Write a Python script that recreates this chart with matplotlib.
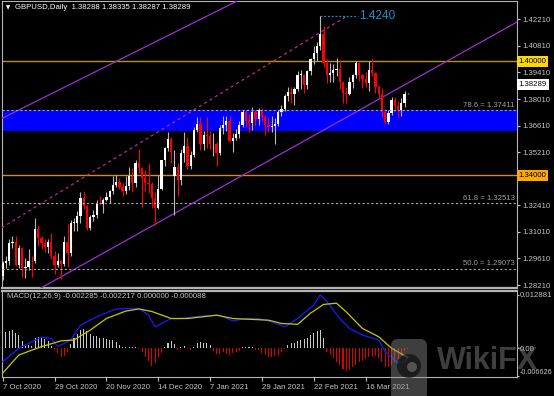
import matplotlib
matplotlib.use("Agg")
import matplotlib.pyplot as plt
import matplotlib.transforms as mtransforms
from matplotlib.patches import FancyBboxPatch, Circle
import numpy as np
import pandas as pd

plt.rcParams['font.family'] = ['Liberation Sans', 'DejaVu Sans']

# ---------------- data ----------------
dates = [d for d in pd.bdate_range('2020-10-07', '2021-04-02')
         if d.strftime('%m-%d') not in ('12-25', '01-01')]

opens = [
    1.2870, 1.2935, 1.2945, 1.3045, 1.3050, 1.2925, 1.3015, 1.2910, 1.2915, 1.2950,
    1.2945, 1.3115, 1.3070, 1.3045, 1.3020, 1.3050, 1.2975, 1.2925, 1.2945, 1.2930,
    1.3050, 1.2990, 1.3150, 1.3150, 1.3185, 1.3280, 1.3235, 1.3120, 1.3180, 1.3190,
    1.3255, 1.3250, 1.3270, 1.3285, 1.3315, 1.3350, 1.3365, 1.3340, 1.3315, 1.3345,
    1.3395, 1.3360, 1.3465, 1.3440, 1.3385, 1.3360, 1.3355, 1.3280, 1.3225, 1.3325,
    1.3480, 1.3545, 1.3590, 1.3395, 1.3445, 1.3375, 1.3515, 1.3555, 1.3450, 1.3505,
    1.3640, 1.3670, 1.3565, 1.3610, 1.3605, 1.3565, 1.3565, 1.3515, 1.3650, 1.3665,
    1.3685, 1.3580, 1.3595, 1.3615, 1.3665, 1.3730, 1.3685, 1.3675, 1.3730, 1.3695,
    1.3745, 1.3705, 1.3665, 1.3655, 1.3660, 1.3670, 1.3735, 1.3750, 1.3815, 1.3840,
    1.3825, 1.3855, 1.3930, 1.3930, 1.3875, 1.3950, 1.4010, 1.4045, 1.4080, 1.4145,
    1.3990, 1.3925, 1.3940, 1.3955, 1.3960, 1.3890, 1.3835, 1.3830, 1.3890, 1.3925,
    1.3990, 1.3925, 1.3905, 1.3885, 1.3955, 1.3940, 1.3865, 1.3830, 1.3735, 1.3680,
    1.3725, 1.3795, 1.3765, 1.3745, 1.3780, 1.38288]
highs = [
    1.2945, 1.2975, 1.3065, 1.3080, 1.3080, 1.3030, 1.3020, 1.2965, 1.3010, 1.2975,
    1.3175, 1.3135, 1.3080, 1.3065, 1.3065, 1.3095, 1.3000, 1.2990, 1.2955, 1.3080,
    1.3140, 1.3165, 1.3175, 1.3210, 1.3310, 1.3315, 1.3245, 1.3190, 1.3215, 1.3270,
    1.3290, 1.3280, 1.3310, 1.3320, 1.3395, 1.3400, 1.3385, 1.3360, 1.3395, 1.3445,
    1.3440, 1.3480, 1.3540, 1.3445, 1.3425, 1.3465, 1.3365, 1.3310, 1.3400, 1.3480,
    1.3550, 1.3625, 1.3600, 1.3535, 1.3465, 1.3540, 1.3625, 1.3600, 1.3525, 1.3655,
    1.3705, 1.3705, 1.3635, 1.3705, 1.3635, 1.3620, 1.3575, 1.3665, 1.3710, 1.3710,
    1.3710, 1.3620, 1.3645, 1.3685, 1.3745, 1.3745, 1.3720, 1.3760, 1.3745, 1.3755,
    1.3755, 1.3715, 1.3705, 1.3710, 1.3700, 1.3745, 1.3770, 1.3830, 1.3865, 1.3865,
    1.3865, 1.3950, 1.3955, 1.3935, 1.3955, 1.4015, 1.4080, 1.4100, 1.4240, 1.4185,
    1.4010, 1.3990, 1.3985, 1.4015, 1.4005, 1.3895, 1.3865, 1.3915, 1.3935, 1.4000,
    1.3995, 1.3935, 1.3945, 1.4000, 1.4015, 1.3945, 1.3875, 1.3860, 1.3750, 1.3745,
    1.3810, 1.3810, 1.3790, 1.3805, 1.3845, 1.38335]
lows = [
    1.2850, 1.2910, 1.2925, 1.3015, 1.2920, 1.2910, 1.2865, 1.2860, 1.2900, 1.2865,
    1.2935, 1.3025, 1.3010, 1.2995, 1.2990, 1.2960, 1.2880, 1.2915, 1.2855, 1.2920,
    1.2915, 1.2975, 1.3105, 1.3105, 1.3150, 1.3220, 1.3110, 1.3110, 1.3160, 1.3175,
    1.3240, 1.3200, 1.3265, 1.3255, 1.3300, 1.3335, 1.3325, 1.3290, 1.3300, 1.3320,
    1.3310, 1.3340, 1.3410, 1.3225, 1.3315, 1.3305, 1.3225, 1.3135, 1.3220, 1.3320,
    1.3450, 1.3525, 1.3465, 1.3188, 1.3290, 1.3350, 1.3470, 1.3430, 1.3430, 1.3495,
    1.3625, 1.3530, 1.3530, 1.3545, 1.3540, 1.3500, 1.3450, 1.3505, 1.3615, 1.3635,
    1.3575, 1.3520, 1.3585, 1.3595, 1.3655, 1.3655, 1.3625, 1.3640, 1.3660, 1.3665,
    1.3680, 1.3610, 1.3625, 1.3625, 1.3565, 1.3660, 1.3710, 1.3740, 1.3790, 1.3780,
    1.3770, 1.3845, 1.3855, 1.3835, 1.3855, 1.3925, 1.3985, 1.4000, 1.4060, 1.3970,
    1.3885, 1.3890, 1.3890, 1.3920, 1.3855, 1.3780, 1.3780, 1.3820, 1.3860, 1.3910,
    1.3895, 1.3860, 1.3865, 1.3845, 1.3920, 1.3835, 1.3805, 1.3700, 1.3670, 1.3670,
    1.3715, 1.3740, 1.3705, 1.3710, 1.3760, 1.38287]
closes = [
    1.2935, 1.2945, 1.3045, 1.3050, 1.2925, 1.3015, 1.2910, 1.2915, 1.2950, 1.2945,
    1.3115, 1.3070, 1.3045, 1.3020, 1.3050, 1.2975, 1.2925, 1.2945, 1.2930, 1.3050,
    1.2990, 1.3150, 1.3150, 1.3185, 1.3280, 1.3235, 1.3120, 1.3180, 1.3190, 1.3255,
    1.3250, 1.3270, 1.3285, 1.3315, 1.3350, 1.3365, 1.3340, 1.3315, 1.3345, 1.3395,
    1.3360, 1.3465, 1.3440, 1.3385, 1.3360, 1.3355, 1.3280, 1.3225, 1.3325, 1.3480,
    1.3545, 1.3590, 1.3520, 1.3445, 1.3375, 1.3515, 1.3555, 1.3450, 1.3505, 1.3640,
    1.3670, 1.3565, 1.3610, 1.3605, 1.3565, 1.3565, 1.3515, 1.3650, 1.3665, 1.3685,
    1.3580, 1.3595, 1.3615, 1.3665, 1.3730, 1.3685, 1.3675, 1.3730, 1.3695, 1.3745,
    1.3705, 1.3665, 1.3655, 1.3660, 1.3670, 1.3735, 1.3750, 1.3815, 1.3840, 1.3825,
    1.3855, 1.3930, 1.3930, 1.3875, 1.3950, 1.4010, 1.4045, 1.4080, 1.4145, 1.3990,
    1.3925, 1.3940, 1.3955, 1.3960, 1.3890, 1.3835, 1.3830, 1.3890, 1.3925, 1.3990,
    1.3925, 1.3905, 1.3885, 1.3955, 1.3940, 1.3865, 1.3830, 1.3735, 1.3680, 1.3725,
    1.3795, 1.3765, 1.3745, 1.3780, 1.3829, 1.38289]

macd_bars = [0, 5, 8, 12, 15, 17, 21, 24, 30, 35, 42, 45, 47, 50, 52, 55, 59, 63,
             67, 71, 75, 79, 83, 87, 91, 96, 98, 100, 104, 107, 111, 116, 118, 122,
             124, 125]
macd_main = [-0.0032, 0.0000, 0.0012, 0.0027, 0.0024, 0.0004, 0.0020, 0.0056,
             0.0080, 0.0095, 0.0097, 0.0080, 0.0052, 0.0064, 0.0072, 0.0072,
             0.0076, 0.0079, 0.0080, 0.0066, 0.0072, 0.0072, 0.0064, 0.0052,
             0.0072, 0.0105, 0.0129, 0.0113, 0.0072, 0.0048, 0.0032, 0.0020,
             -0.0008, -0.0036, -0.0032, -0.002285]
signal_bars = [0, 5, 12, 18, 22, 27, 32, 38, 42, 46, 52, 57, 66, 71, 82, 86, 91,
               95, 99, 103, 106, 111, 116, 120, 125]
signal_vals = [-0.0060, -0.0016, 0.0004, 0.0018, 0.0020, 0.0044, 0.0072, 0.0090,
               0.0095, 0.0089, 0.0072, 0.0072, 0.0080, 0.0072, 0.0068, 0.0060,
               0.0058, 0.0085, 0.0106, 0.0109, 0.0088, 0.0048, 0.0028, 0.0000,
               -0.002217]
hist_vals = [
    3.6, 3.9, 4.1, 4.4, 3.6, 3.1, 1.7, 0.6, 0.8, 0.5,
    2.4, 2.7, 2.4, 2.2, 1.7, 0.5, -0.5, -1.2, -2.0, -1.8,
    -0.9, 1.0, 2.5, 3.4, 4.4, 4.6, 4.1, 3.4, 2.9, 2.9,
    2.5, 2.4, 2.2, 2.0, 1.9, 1.5, 0.7, 0.4, 0.3, 0.3,
    0.3, 0.2, -0.2, -1.0, -2.0, -3.1, -4.2, -3.6, -2.4, -1.2,
    0.2, 1.3, 1.8, 1.1, -0.3, 0.3, 0.5, -0.2, -0.3, 0.4,
    1.4, 1.6, 1.4, 1.2, 0.7, -0.6, -1.3, -1.3, -1.0, -1.3,
    -1.5, -1.1, -0.8, -0.6, 0.2, 0.3, 0.3, 0.2, -0.3, -0.4,
    -1.2, -1.6, -2.0, -2.0, -1.8, -1.6, -0.9, -0.2, 0.8, 1.2,
    1.4, 1.8, 2.0, 2.3, 2.6, 3.2, 3.6, 4.2, 4.4, 2.6,
    -0.8, -1.6, -2.4, -3.2, -4.0, -5.0, -5.6, -5.2, -4.6, -4.0,
    -3.4, -3.0, -2.6, -2.2, -2.0, -1.8, -2.4, -3.4, -4.4, -4.6,
    -4.0, -3.2, -2.6, -1.6, -0.6, -0.088]
hist_vals = [v / 1000.0 for v in hist_vals]

price_ticks = [1.42210, 1.40810, 1.39410, 1.38010, 1.36610, 1.35210,
               1.32410, 1.31010, 1.29610, 1.28210]
macd_ticks = [0.012881, 0.0, -0.006626]
macd_tick_labels = ['0.012881', '0.00', '-0.006626']
level_prices = [1.40000, 1.34000]
level_colors = ['#b8940c', '#d08c14']
level_box_colors = ['#ffd800', '#ffa800']
fib_levels = [78.6, 61.8, 50.0]
fib_prices = [1.37411, 1.32513, 1.29073]
zone_low, zone_high = 1.36325, 1.37411
peak_price = 1.4240
last_price = 1.38289
date_step = 16

# trend-line anchors (bar index, price)
chan_low = [(12.4, 1.2811), (158.7, 1.4207)]
chan_up = [(0.0, 1.3701), (72.3, 1.4317)]
mid_dash = [(-0.3, 1.3123), (106.2, 1.4238)]
peak_span = [97.9, 109.6]

# ---------------- layout ----------------
W, H = 554, 396
fig = plt.figure(figsize=(W / 100, H / 100), dpi=100, facecolor='black')


def rect(x0, y0, x1, y1):
    return [x0 / W, 1 - y1 / H, (x1 - x0) / W, (y1 - y0) / H]


def price_at(y):
    return 1.4221 - (y - 19.3) / 1898.0


def macd_at(y):
    return (348.3 - y) / 4138.0


ax = fig.add_axes(rect(2, 1, 517, 288), facecolor='black')
ax2 = fig.add_axes(rect(2, 291, 517, 377), facecolor='black')
xmin, xmax = (2 - 2.7) / 3.241, (517 - 2.7) / 3.241
for a in (ax, ax2):
    a.set_xlim(xmin, xmax)
    for s in a.spines.values():
        s.set_color('#b4b4b4')
        s.set_linewidth(0.8)
ax.spines['bottom'].set_linewidth(1.6)
ax2.spines['top'].set_linewidth(1.6)
ax.set_ylim(price_at(288), price_at(1))
ax2.set_ylim(macd_at(377), macd_at(291))

FS = 5.6
GRAY = '#c4c4c4'

# zone and levels
ax.axhspan(zone_low, zone_high, color='#0000ff', zorder=1, lw=0)
for p, col in zip(level_prices, level_colors):
    ax.axhline(p, color=col, lw=1.0, zorder=2)

bt = mtransforms.blended_transform_factory(ax.transAxes, ax.transData)
for lvl, p in zip(fib_levels, fib_prices):
    ax.axhline(p, color='#a8a8a8', lw=0.8, ls=(0, (2, 2)), zorder=6)
    ax.text(0.996, p + 0.0009, f"{lvl:.1f} = {p:.5f}", transform=bt, ha='right',
            va='bottom', color='#a0a0a0', fontsize=FS, zorder=6)

# trend lines
ax.axline(chan_low[0], chan_low[1], color='#9b30d0', lw=0.9, zorder=3)
ax.axline(chan_up[0], chan_up[1], color='#9b30d0', lw=0.9, zorder=3)
ax.plot([mid_dash[0][0], mid_dash[1][0]], [mid_dash[0][1], mid_dash[1][1]],
        color='#b02e8e', lw=0.9, ls=(0, (2.5, 2.5)), zorder=3)
ax.plot(peak_span, [peak_price, peak_price], color='#1e90c8', lw=0.9,
        ls=(0, (1.5, 1.5)), zorder=3)
ax.text(peak_span[1] + 0.5, peak_price, f"{peak_price:.4f}", color='#1e90c8',
        fontsize=8.5, va='center', ha='left', zorder=6)

# candles
o = np.array(opens); h = np.array(highs); l = np.array(lows); c = np.array(closes)
idx = np.arange(len(o))
up = c >= o
bottom = np.minimum(o, c)
height = np.maximum(np.abs(c - o), 0.00012)
ax.vlines(idx[up], l[up], h[up], color='#b8b8b8', lw=0.8, zorder=4)
ax.vlines(idx[~up], l[~up], h[~up], color='#ff0000', lw=0.8, zorder=4)
ax.bar(idx[up], height[up], bottom=bottom[up], width=0.7, color='white', lw=0, zorder=5)
ax.bar(idx[~up], height[~up], bottom=bottom[~up], width=0.7, color='#ff0000', lw=0, zorder=5)

# price axis
ax.yaxis.tick_right()
ax.set_yticks(price_ticks)
ax.set_yticklabels([f"{t:.5f}" for t in price_ticks])
ax.tick_params(axis='y', colors=GRAY, labelsize=FS, length=2, pad=2, width=0.8)
ax.set_xticks([])

for p, col in zip(level_prices, level_box_colors):
    ax.text(1.003, p, f"{p:.5f}", transform=bt, ha='left', va='center',
            fontsize=FS, color='black', clip_on=False, zorder=20,
            bbox=dict(boxstyle='square,pad=0.25', fc=col, ec='none'))
ax.annotate(f"{last_price:.5f}", xy=(1.003, last_price), xycoords=bt,
            xytext=(0, 6.8), textcoords='offset points', ha='left', va='center',
            fontsize=FS, color='black', annotation_clip=False, zorder=20,
            bbox=dict(boxstyle='square,pad=0.25', fc='white', ec='none'))

# MACD panel
hcol = ['#c8c8c8' if v >= 0 else '#e00000' for v in hist_vals]
ax2.bar(np.arange(len(hist_vals)), hist_vals, width=0.32, color=hcol, lw=0, zorder=2)
ax2.plot(macd_bars, macd_main, color='#1a1aff', lw=0.9, zorder=3)
ax2.plot(signal_bars, signal_vals, color='#c8c800', lw=0.9, zorder=3)
ax2.yaxis.tick_right()
ax2.set_yticks(macd_ticks)
ax2.set_yticklabels(macd_tick_labels)
ax2.tick_params(axis='y', colors=GRAY, labelsize=FS, length=1.5, pad=0.6, width=0.8)
lbls = ax2.get_yticklabels()
lbls[-1].set_verticalalignment('bottom')
lbls[-1].set_fontsize(5.2)
tick_pos = list(range(0, len(dates), date_step))[:8]
ax2.set_xticks(tick_pos)
ax2.set_xticklabels([f"{dates[i].day} {dates[i].strftime('%b %Y')}" for i in tick_pos],
                    ha='left')
ax2.tick_params(axis='x', colors=GRAY, labelsize=FS, length=3, pad=2, width=0.8)

# headers
fig.text(6 / W, 1 - 7.5 / H, '\u25bc', family='DejaVu Sans', fontsize=4, color='white',
         va='center')
fig.text(15 / W, 1 - 7.5 / H, 'GBPUSD,Daily  1.38288 1.38335 1.38287 1.38289',
         color='white', fontsize=FS, va='center')
fig.text(7 / W, 1 - 297 / H, 'MACD(12,26,9) -0.002285 -0.002217 0.000000 -0.000088',
         color=GRAY, fontsize=FS, va='center')

# watermark overlay
ov = fig.add_axes([0, 0, 1, 1])
ov.set_xlim(0, W)
ov.set_ylim(H, 0)
ov.axis('off')
ov.add_patch(FancyBboxPatch((391, 339), 36, 62, boxstyle='round,pad=0,rounding_size=7',
                            fc='#8a8a8a', ec='none', alpha=0.45))
ov.add_patch(Circle((409, 366), 12, fc='black', ec='none', alpha=0.55))
ov.add_patch(Circle((412, 367), 5, fc='#8a8a8a', ec='none', alpha=0.5))
ov.text(437, 369, 'WikiFX', fontsize=22, fontweight='bold', color='#8a8a8a',
        alpha=0.45, va='baseline', ha='left')

fig.savefig('out.png', dpi=100, facecolor='black')
